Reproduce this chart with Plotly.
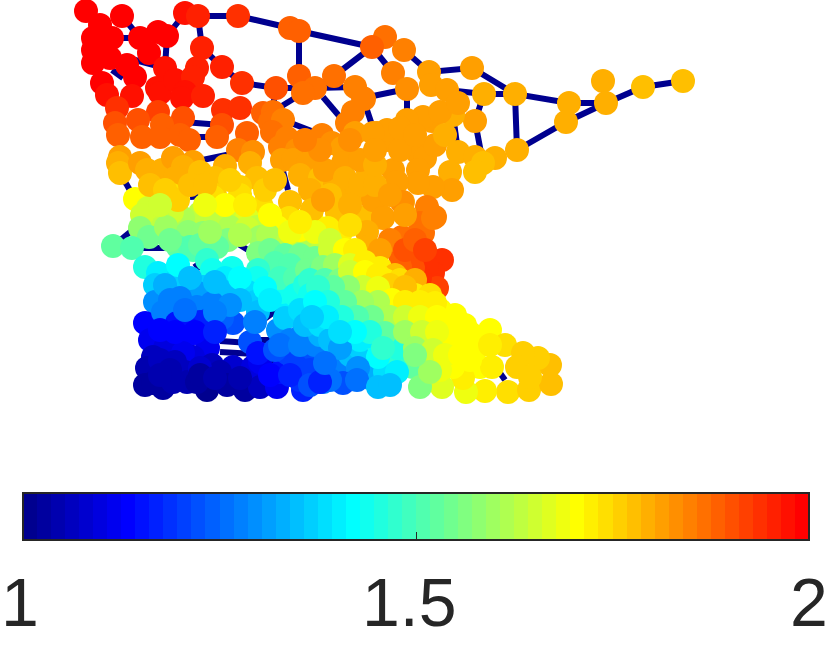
import plotly.graph_objects as go

# nodes: (map x, map y, value)
nodes_north = [
(86,11,2),(100,25,2),(122,16,2),(185,13,1.97),(198,16,1.96),(238,16,1.93),(290,28,1.89),(299,31,1.88),
(385,37,1.86),(372,47,1.88),(93,38,2),(112,38,2),(140,38,2),(158,32,2),(167,36,2),(202,48,1.96),(149,53,2),
(93,50,2),(102,48,2),(93,63,2),(110,58,2),(127,65,2),(165,68,1.98),(197,68,1.96),(222,67,1.95),(242,83,1.94),
(276,88,1.91),(299,76,1.88),(334,76,1.87),(315,88,1.87),(303,93,1.87),(355,87,1.84),(364,99,1.84),(102,83,2),
(135,77,1.99),(107,95,1.98),(132,96,1.98),(157,88,1.97),(160,93,1.97),(175,80,1.97),(193,77,1.96),(185,92,1.97),
(182,98,1.97),(203,96,1.95),(117,108,1.93),(158,112,1.92),(223,110,1.93),(240,108,1.93),(138,120,1.91),(183,118,1.9),
(115,123,1.91),(222,125,1.9),(162,125,1.89),(118,135,1.89),(142,137,1.89),(160,137,1.88),(180,135,1.88),(189,140,1.88),
(217,137,1.89),(247,133,1.88),(263,113,1.88),(273,112,1.87),(270,122,1.86),(283,120,1.85),(272,132,1.87),(287,138,1.84),
(322,135,1.84),(332,143,1.83),(347,123,1.84),(353,112,1.84),(355,133,1.82),(342,148,1.82),(377,133,1.81),(387,140,1.82),
(238,150,1.85),(253,152,1.83),(280,147,1.84),(297,150,1.83),(282,160,1.81),(293,160,1.81),(308,163,1.81),(343,163,1.81),
(120,157,1.81),(118,163,1.79),(120,173,1.78),(140,163,1.81),(147,170,1.79),(162,170,1.8),(173,158,1.81),(193,162,1.81),
(183,167,1.8),(200,172,1.78),(225,166,1.79),(250,163,1.8),(215,178,1.78),(157,180,1.8),(175,178,1.79),(257,178,1.77),
]
nodes_east = [
(404,50,1.84),(393,73,1.84),(429,72,1.82),(472,68,1.81),(515,94,1.79),(484,94,1.8),(407,89,1.83),(431,85,1.82),
(447,90,1.82),(569,103,1.79),(566,122,1.79),(603,81,1.79),(606,103,1.79),(643,87,1.78),(683,81,1.77),(517,150,1.79),
(475,121,1.81),(453,115,1.8),(432,121,1.81),(423,117,1.81),(440,112,1.81),(458,103,1.82),(407,120,1.82),(363,98,1.84),
(387,130,1.82),(373,133,1.82),(417,152,1.81),(425,158,1.81),(458,152,1.8),(495,158,1.79),(475,157,1.79),(483,163,1.78),
(475,172,1.77),(450,172,1.79),(452,190,1.82),(433,187,1.82),(418,170,1.81),(418,183,1.81),(393,170,1.82),(397,182,1.81),
(368,172,1.8),(352,197,1.78),(342,213,1.78),(365,217,1.78),(383,217,1.81),(403,202,1.82),(375,200,1.81),(427,207,1.85),
(435,217,1.84),(420,223,1.87),(353,193,1.8),(402,202,1.83),(373,200,1.81),(337,213,1.78),(383,218,1.82),(367,232,1.79),
(368,247,1.79),(402,237,1.86),(423,233,1.86),(433,218,1.85),(417,253,1.91),(442,260,1.93),(433,273,1.93),(427,267,1.93),
(437,288,1.92),(420,278,1.93),(413,268,1.91),(400,267,1.88),
(300,175,1.79),(320,178,1.78),(335,185,1.79),(310,190,1.8),(325,170,1.81),(345,178,1.8),(360,185,1.79),(330,195,1.78),
(350,205,1.8),(375,185,1.8),(390,195,1.81),(405,215,1.82),(360,160,1.81),(375,165,1.8),(320,150,1.83),(305,140,1.84),
(400,150,1.82),(435,145,1.81),(445,135,1.8),(400,128,1.82),(375,150,1.82),(350,140,1.83),(415,135,1.81),
(400,255,1.88),(390,240,1.85),(380,250,1.81),(405,250,1.9),(415,240,1.88),(425,250,1.92),
]
nodes_middle = [
(240,187,1.75),(240,195,1.74),(215,195,1.75),(172,195,1.74),(135,199,1.71),(213,197,1.74),(262,207,1.74),(290,202,1.78),
(289,218,1.74),(312,220,1.71),(233,215,1.66),(200,213,1.64),(183,218,1.62),(172,212,1.66),(158,218,1.63),(178,200,1.75),
(170,197,1.75),(148,208,1.65),(215,220,1.63),(247,218,1.67),(277,227,1.7),(257,227,1.63),(312,210,1.78),(323,200,1.82),
(328,228,1.73),(142,215,1.65),(140,228,1.58),(149,237,1.54),(166,227,1.6),(113,246,1.53),(132,248,1.5),(188,232,1.58),
(203,233,1.58),(230,227,1.62),(247,228,1.66),(228,240,1.57),(260,237,1.6),(268,235,1.62),(288,242,1.63),(307,245,1.62),
(323,247,1.64),(178,247,1.52),(190,247,1.5),(193,250,1.5),(217,247,1.52),(258,253,1.57),
(150,185,1.77),(165,190,1.76),(190,185,1.78),(205,185,1.77),(230,180,1.76),(265,190,1.76),(275,180,1.77),(225,205,1.7),
(245,205,1.72),(270,215,1.7),(205,205,1.69),(160,205,1.66),(300,230,1.7),(290,232,1.69),(340,235,1.72),(350,225,1.74),
(315,232,1.68),(330,240,1.65),(300,222,1.72),
(200,245,1.52),(170,240,1.54),(210,232,1.6),(240,235,1.62),(270,250,1.55),(285,255,1.52),(300,255,1.55),(315,258,1.55),
(275,263,1.5),(290,265,1.5),
]
nodes_south = [
(145,267,1.46),(158,273,1.41),(155,285,1.36),(155,302,1.3),(145,323,1.13),(163,312,1.27),(178,278,1.38),(177,287,1.36),
(178,265,1.42),(207,260,1.47),(212,270,1.44),(232,268,1.44),(258,270,1.48),(257,278,1.43),(248,292,1.38),(255,302,1.36),
(258,312,1.35),(225,278,1.41),(225,292,1.35),(203,287,1.36),(198,293,1.32),(212,303,1.27),(197,307,1.27),(233,323,1.23),
(222,318,1.24),(208,320,1.2),(200,322,1.17),(187,328,1.15),(177,323,1.16),(205,338,1.14),(208,348,1.12),(185,338,1.13),
(170,340,1.12),(150,340,1.12),(165,348,1.1),(153,357,1.07),(193,357,1.1),(183,353,1.11),(147,368,1.05),(185,372,1.07),
(212,365,1.07),(233,367,1.08),(253,367,1.09),(260,362,1.12),(250,342,1.22),(255,322,1.27),(258,353,1.16),(145,385,1.03),
(163,388,1.03),(153,383,1.03),(187,382,1.04),(173,382,1.04),(207,390,1.01),(197,382,1.03),(220,372,1.04),(227,385,1.03),
(245,390,1.03),(260,387,1.06),(277,387,1.12),(280,372,1.15),(303,390,1.17),(300,380,1.19),(323,382,1.27),(287,353,1.2),
(303,357,1.22),(327,363,1.27),(333,350,1.3),(303,333,1.29),(278,330,1.3),(308,323,1.38),(290,307,1.41),(282,292,1.44),
(280,278,1.49),(295,278,1.5),(307,270,1.54),(318,297,1.45),
(265,288,1.42),(240,278,1.42),(215,282,1.35),(190,278,1.35),(165,285,1.33),(240,300,1.35),(270,300,1.41),(230,305,1.3),
(180,298,1.27),(170,300,1.27),(185,310,1.25),(215,312,1.27),(285,318,1.36),(295,295,1.44),(305,285,1.46),(320,272,1.52),
(335,272,1.55),
(160,330,1.14),(175,332,1.13),(195,332,1.14),(215,332,1.17),(160,360,1.07),(175,362,1.07),(200,368,1.08),(170,370,1.05),
(160,375,1.04),(200,375,1.03),(240,378,1.05),(215,378,1.04),(270,375,1.14),(275,350,1.22),(290,340,1.28),(280,345,1.25),
(295,365,1.2),(310,370,1.21),(315,345,1.28),(290,375,1.17),(310,385,1.22),(335,370,1.28),(350,355,1.34),(365,355,1.38),
(370,378,1.33),(385,372,1.38),(300,345,1.27),(320,335,1.33),(345,330,1.38),(360,348,1.36),
]
nodes_diagonal = [
(330,250,1.66),(345,250,1.7),(355,250,1.72),(323,267,1.57),(335,265,1.6),(350,265,1.67),(365,262,1.72),(380,268,1.73),
(395,275,1.78),(310,280,1.47),(325,280,1.5),(340,280,1.57),(355,280,1.62),(370,280,1.68),(385,280,1.72),(400,280,1.74),
(415,280,1.8),(310,295,1.43),(325,295,1.46),(340,295,1.5),(355,295,1.56),(370,295,1.62),(385,295,1.65),(400,295,1.7),
(415,295,1.72),(430,295,1.74),(300,310,1.38),(320,310,1.42),(335,310,1.46),(350,310,1.51),(365,310,1.57),(380,310,1.6),
(395,310,1.63),(410,310,1.67),(425,310,1.7),(440,310,1.7),(455,315,1.7),(305,325,1.35),(320,325,1.38),(335,325,1.4),
(350,325,1.47),(365,325,1.52),(380,325,1.56),(395,325,1.6),(415,325,1.65),(430,325,1.68),(447,325,1.7),(465,325,1.7),
(330,340,1.35),(345,340,1.37),(360,340,1.41),(375,340,1.45),(392,340,1.5),(410,340,1.58),(430,340,1.67),(445,340,1.7),
(460,340,1.7),(490,330,1.71),(505,345,1.74),(480,367,1.71),(508,392,1.74),(529,390,1.76),(551,384,1.77),(550,365,1.78),
(538,358,1.76),(523,353,1.75),(517,367,1.75),(530,377,1.76),(492,367,1.72),(485,391,1.72),(466,392,1.69),(463,378,1.72),
(453,367,1.7),(442,387,1.67),(428,355,1.64),(413,367,1.53),(420,387,1.57),(397,357,1.47),(397,372,1.41),(378,357,1.42),
(358,368,1.3),(343,383,1.22),(330,380,1.25),(320,382,1.17),(357,380,1.25),(340,348,1.32),(325,363,1.25),(365,337,1.4),
(393,338,1.47),(417,337,1.6),(398,348,1.45),(373,318,1.53),(378,387,1.34),(390,385,1.35),
(350,272,1.65),(365,272,1.7),(378,275,1.72),(390,285,1.75),(405,287,1.77),(363,287,1.66),(348,287,1.58),(333,287,1.53),
(318,287,1.47),(378,288,1.69),(392,300,1.7),(378,302,1.62),(362,302,1.59),(345,302,1.53),(328,302,1.45),(315,302,1.42),
(405,302,1.72),(420,302,1.72),(435,303,1.72),(390,317,1.61),(372,317,1.55),(357,317,1.51),(342,317,1.46),(327,317,1.41),
(312,317,1.37),(405,317,1.66),(420,317,1.68),(437,317,1.7),(452,330,1.7),(470,333,1.71),(385,333,1.52),(370,332,1.46),
(355,332,1.42),(340,332,1.38),(405,332,1.6),(422,332,1.66),(437,332,1.69),(415,348,1.6),(433,350,1.66),(445,355,1.68),
(460,355,1.7),(475,350,1.7),(490,345,1.72),(440,370,1.68),(470,360,1.71),(430,372,1.6),(415,355,1.56),(383,348,1.47),
]
# edges: polylines through the graph's visible links
edge_paths = [
[(198,16),(238,16),(290,28),(299,31),(372,47),(334,76)],[(122,16),(140,38)],[(185,13),(167,36),(165,68)],
[(198,16),(202,48),(197,68)],[(202,48),(222,67),(242,83),(276,88),(315,88),(355,87)],[(299,31),(299,76)],
[(372,47),(393,73)],[(385,37),(404,50),(429,72),(472,68),(515,94),(569,103),(606,103),(643,87),(683,81)],
[(515,94),(517,150),(566,122),(606,103)],[(603,81),(606,103)],[(393,73),(407,89),(407,120)],[(407,89),(363,98),(372,125)],
[(447,90),(484,94),(515,94)],[(484,94),(475,121),(483,163)],[(453,115),(458,152)],[(323,97),(340,117)],
[(276,88),(272,112),(303,93)],[(283,120),(322,135)],[(183,122),(222,125)],[(142,137),(217,137)],[(193,162),(250,150)],
[(280,160),(288,190)],[(225,166),(240,187)],[(190,197),(215,195)],[(120,173),(135,199)],[(112,70),(123,78)],
[(112,38),(140,38)],[(135,60),(165,68)],[(113,246),(135,228)],[(142,248),(178,248)],[(235,242),(248,250)],
[(195,263),(200,270)],[(170,306),(200,308)],[(155,323),(190,325)],[(220,341),(250,343)],[(220,352),(255,354)],
[(270,355),(273,365)],[(268,295),(277,310),(263,320)],[(240,340),(270,340)],[(480,328),(477,333)],
[(483,340),(497,350)],[(500,373),(505,380)],[(429,72),(431,85)],[(458,152),(495,158)],
]
# colour bar and its labels
tick_values = [1, 1.5, 2]
tick_labels = ["1", "1.5", "2"]
label_x = [20, 409, 809]

nodes = nodes_north + nodes_east + nodes_middle + nodes_south + nodes_diagonal
node_x = [n[0] for n in nodes]
node_y = [n[1] for n in nodes]
node_v = [n[2] for n in nodes]

edge_x, edge_y = [], []
for path in edge_paths:
    edge_x += [p[0] for p in path] + [None]
    edge_y += [p[1] for p in path] + [None]

def jet_rgb(i):
    # MATLAB jet(64) row i (1-based)
    r = min(1, max(0, min((i - 24) / 16, (72 - i) / 16)))
    g = min(1, max(0, min((i - 8) / 16, (56 - i) / 16)))
    b = min(1, max(0, min((i + 8) / 16, (40 - i) / 16)))
    return f"rgb({round(r*255)},{round(g*255)},{round(b*255)})"

n_steps = 56
colorscale = []
for k in range(n_steps):
    col = jet_rgb(k + 1)
    colorscale.append([k / n_steps, col])
    colorscale.append([(k + 1) / n_steps, col])

fig = go.Figure()
fig.add_trace(go.Scatter(x=edge_x, y=edge_y, mode="lines",
                         line=dict(color="#00008f", width=6), hoverinfo="skip"))
fig.add_trace(go.Scatter(x=node_x, y=node_y, mode="markers",
    marker=dict(size=24, color=node_v, cmin=1, cmax=2, colorscale=colorscale,
                line=dict(width=0),
                colorbar=dict(orientation="h", lenmode="pixels", len=786, thicknessmode="pixels",
                              thickness=47, x=23/830, xanchor="left", y=1-493/647, yanchor="top",
                              xpad=0, ypad=0, outlinecolor="#262626", outlinewidth=2,
                              tickmode="array", tickvals=tick_values, ticks="inside", ticklen=9,
                              tickwidth=1, tickcolor="#262626", showticklabels=False))))
for v, t, lx in zip(tick_values, tick_labels, label_x):
    fig.add_annotation(x=lx, y=602, xref="x", yref="y", text=t, showarrow=False,
                       font=dict(family="Liberation Sans", size=68, color="#262626"))
fig.update_xaxes(range=[0, 830], visible=False)
fig.update_yaxes(range=[647, 0], visible=False)
fig.update_layout(width=830, height=647, margin=dict(l=0, r=0, t=0, b=0, autoexpand=False),
                  paper_bgcolor="white", plot_bgcolor="white", showlegend=False)
fig.write_html("out.html", config={"displayModeBar": False},
               post_script="document.body.style.margin='0';")
